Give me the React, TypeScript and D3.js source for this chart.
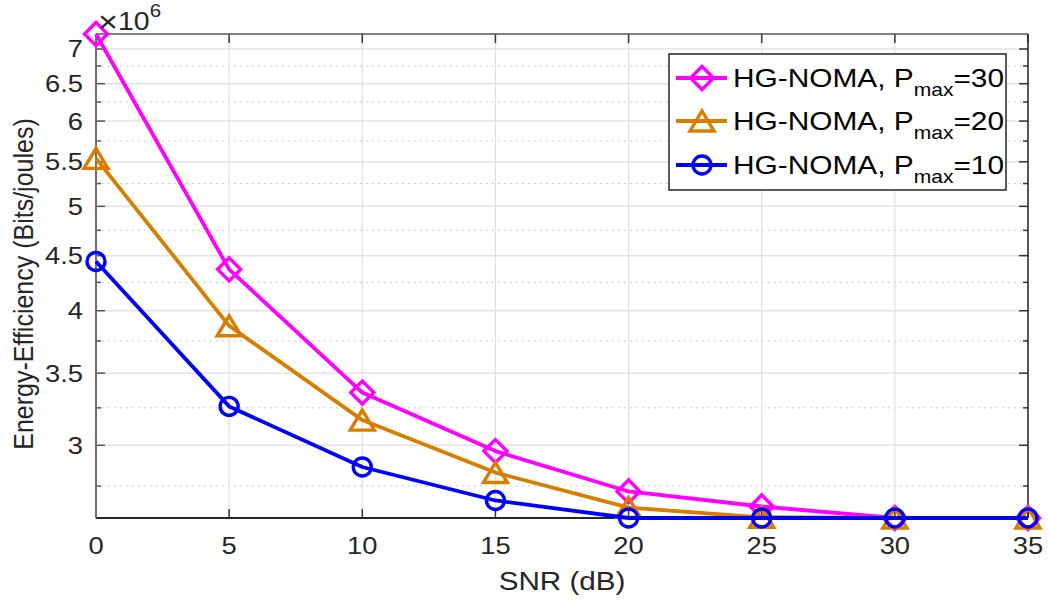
import React from "react";
import * as d3 from "d3";

// SNR (dB) on the x axis
const snr = [0, 5, 10, 15, 20, 25, 30, 35];

// energy efficiency, in units of 1e6 bits/joule
const pmax30 = [7.228, 4.37, 3.358, 2.963, 2.718, 2.632, 2.568, 2.568];
const pmax20 = [5.54, 3.873, 3.166, 2.83, 2.626, 2.572, 2.568, 2.568];
const pmax10 = [4.444, 3.26, 2.864, 2.666, 2.568, 2.568, 2.568, 2.568];

const yMajorTicks = [3, 3.5, 4, 4.5, 5, 5.5, 6, 6.5, 7];
const yMinorTicks = [2.75, 3.25, 3.75, 4.25, 4.75, 5.25, 5.75, 6.25, 6.75];
const xTicks = [0, 5, 10, 15, 20, 25, 30, 35];

const series = [
  { name: "30", values: pmax30, color: "#ff00ff", marker: "diamond" },
  { name: "20", values: pmax20, color: "#d97d00", marker: "triangle" },
  { name: "10", values: pmax10, color: "#0000ff", marker: "circle" },
];

const W = 1049;
const H = 601;
const margin = { left: 96, right: 21, top: 34, bottom: 83 };
const SX = 1.14; // text in the picture is stretched horizontally
const FONT = "'Liberation Sans', Arial, Helvetica, sans-serif";
const TXT = "#262626";

const Marker = ({ type, x, y, color }: { type: string; x: number; y: number; color: string }) => {
  if (type === "circle")
    return <circle cx={x} cy={y} r={9} fill="none" stroke={color} strokeWidth={3.4} />;
  if (type === "diamond") {
    const r = 11.5;
    return (
      <path
        d={`M${x},${y - r}L${x + r},${y}L${x},${y + r}L${x - r},${y}Z`}
        fill="none"
        stroke={color}
        strokeWidth={3.4}
      />
    );
  }
  const h = 10;
  const w = 12;
  return (
    <path
      d={`M${x},${y - h}L${x + w},${y + h}L${x - w},${y + h}Z`}
      fill="none"
      stroke={color}
      strokeWidth={3.4}
    />
  );
};

export default function App() {
  const innerW = W - margin.left - margin.right;
  const innerH = H - margin.top - margin.bottom;

  const x = d3.scaleLinear().domain([0, 35]).range([margin.left, margin.left + innerW]);
  const y = d3
    .scaleLog()
    .domain([2.568, 7.228])
    .range([margin.top + innerH, margin.top]);

  const line = d3
    .line<number>()
    .x((_, i) => x(snr[i]))
    .y((d) => y(d));

  const x0 = margin.left;
  const x1 = margin.left + innerW;
  const y0 = margin.top + innerH;
  const y1 = margin.top;

  const lg = { left: 669, top: 54, right: 1006, bottom: 190 };
  const rows = [78, 121, 165];

  return (
    <svg
      width={W}
      height={H}
      style={{ position: "absolute", left: 0, top: 0, background: "#fff" }}
      fontFamily={FONT}
    >
      <rect width={W} height={H} fill="#fff" />
      {/* grid */}
      {yMinorTicks.map((t) => (
        <line key={"mg" + t} x1={x0} x2={x1} y1={y(t)} y2={y(t)} stroke="#bdbdbd" strokeWidth={1} strokeDasharray="1.5,4.5" />
      ))}
      {yMajorTicks.map((t) => (
        <line key={"g" + t} x1={x0} x2={x1} y1={y(t)} y2={y(t)} stroke="#e3e3e3" strokeWidth={1.5} />
      ))}
      {xTicks.map((t) => (
        <line key={"vg" + t} x1={x(t)} x2={x(t)} y1={y0} y2={y1} stroke="#e0e0e0" strokeWidth={1.2} />
      ))}

      {/* tick marks */}
      {yMajorTicks.map((t) => (
        <g key={"yt" + t}>
          <line x1={x0} x2={x0 + 9} y1={y(t)} y2={y(t)} stroke="#555" strokeWidth={1.5} />
          <line x1={x1} x2={x1 - 9} y1={y(t)} y2={y(t)} stroke="#333" strokeWidth={1.5} />
        </g>
      ))}
      {yMinorTicks.map((t) => (
        <g key={"ymt" + t}>
          <line x1={x0} x2={x0 + 5} y1={y(t)} y2={y(t)} stroke="#555" strokeWidth={1.5} />
          <line x1={x1} x2={x1 - 5} y1={y(t)} y2={y(t)} stroke="#333" strokeWidth={1.5} />
        </g>
      ))}
      {xTicks.map((t) => (
        <g key={"xt" + t}>
          <line x1={x(t)} x2={x(t)} y1={y0} y2={y0 - 9} stroke="#333" strokeWidth={1.5} />
          <line x1={x(t)} x2={x(t)} y1={y1} y2={y1 + 9} stroke="#333" strokeWidth={1.5} />
        </g>
      ))}

      {/* axes box */}
      <line x1={x0} x2={x1} y1={y1} y2={y1} stroke="#555" strokeWidth={1.5} />
      <line x1={x1} x2={x1} y1={y1} y2={y0} stroke="#262626" strokeWidth={1.5} />
      <line x1={x0} x2={x1} y1={y0} y2={y0} stroke="#262626" strokeWidth={2} />
      <line x1={x0} x2={x0} y1={y1} y2={y0} stroke="#6e6e6e" strokeWidth={2} />

      {/* series */}
      {series.map((s) => (
        <g key={s.name}>
          <path d={line(s.values) || ""} fill="none" stroke={s.color} strokeWidth={3.8} strokeLinejoin="round" />
          {s.values.map((v, i) => (
            <Marker key={i} type={s.marker} x={x(snr[i])} y={y(v)} color={s.color} />
          ))}
        </g>
      ))}

      {/* tick labels */}
      {yMajorTicks.map((t) => (
        <text
          key={"yl" + t}
          transform={`translate(${x0 - 13},${y(t) + 8.5}) scale(${SX},1)`}
          textAnchor="end"
          fontSize={24}
          fill={TXT}
        >
          {t}
        </text>
      ))}
      {xTicks.map((t) => (
        <text
          key={"xl" + t}
          transform={`translate(${x(t)},${y0 + 36}) scale(${SX},1)`}
          textAnchor="middle"
          fontSize={24}
          fill={TXT}
        >
          {t}
        </text>
      ))}

      {/* exponent */}
      <text transform={`translate(${x0 + 2},30) scale(${SX},1)`} fontSize={25} fill={TXT}>
        <tspan fontSize={30} dy={2}>×</tspan>
        <tspan dy={-2}>10</tspan>
        <tspan fontSize={18} dy={-13}>6</tspan>
      </text>

      {/* axis labels */}
      <text
        transform={`translate(${(x0 + x1) / 2},590) scale(${SX},1)`}
        textAnchor="middle"
        fontSize={26}
        fill={TXT}
      >
        SNR (dB)
      </text>
      <text
        transform={`translate(33,${(y0 + y1) / 2 + 8}) scale(${SX},1) rotate(-90)`}
        textAnchor="middle"
        fontSize={25}
        fill={TXT}
      >
        Energy-Efficiency (Bits/joules)
      </text>

      {/* legend */}
      <rect
        x={lg.left}
        y={lg.top}
        width={lg.right - lg.left}
        height={lg.bottom - lg.top}
        fill="#fff"
        stroke="#262626"
        strokeWidth={1.5}
      />
      {series.map((s, i) => (
        <g key={"lg" + s.name}>
          <line x1={676} x2={727} y1={rows[i]} y2={rows[i]} stroke={s.color} strokeWidth={3.8} />
          <Marker type={s.marker} x={702} y={rows[i]} color={s.color} />
          <text transform={`translate(733,${rows[i] + 9}) scale(1.17,1)`} fontSize={25.5} fill="#000">
            <tspan>HG-NOMA, P</tspan>
            <tspan fontSize={18} dy={9}>max</tspan>
            <tspan dy={-9}>={s.name}</tspan>
          </text>
        </g>
      ))}
    </svg>
  );
}
